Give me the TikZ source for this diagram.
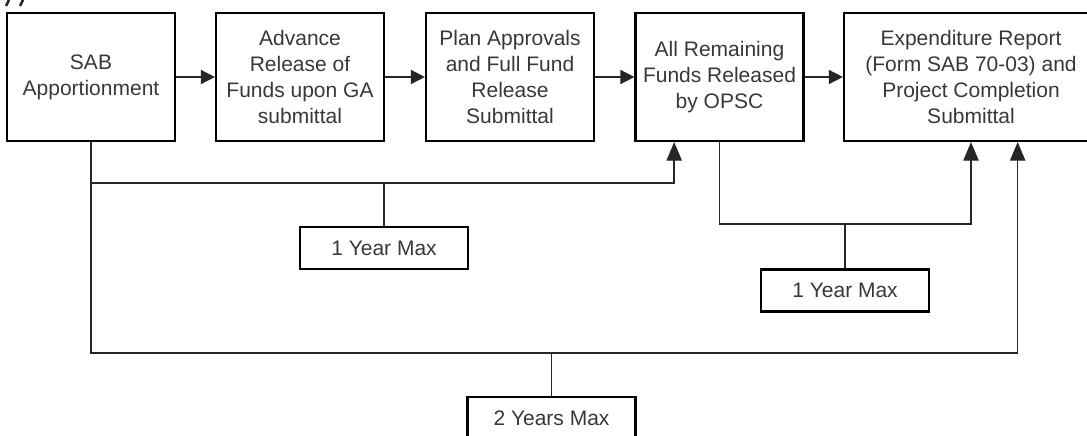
\documentclass[tikz,border=0pt]{standalone}
\usepackage{fontspec}
\setmainfont{Liberation Sans}
\usetikzlibrary{arrows.meta}

\begin{document}
\begin{tikzpicture}[x=0.75pt, y=-0.75pt,
    flowbox/.style={draw, line width=1.6pt, minimum width=126pt, minimum height=96pt,
      align=center, text=black!78, font=\fontsize{15.75}{19.5}\selectfont, inner sep=2pt},
    maxbox/.style={draw, line width=1.6pt, minimum width=126pt, minimum height=31.5pt,
      text=black!78, font=\fontsize{15.75}{19.5}\selectfont},
    link/.style={line width=1.1pt, black!85},
    htip/.style={-{Triangle[length=10.5pt, width=10.5pt]}},
    vtip/.style={-{Triangle[length=14pt, width=11.5pt]}}]
  \useasboundingbox (0,0) rectangle (1087,435);

  % cut-off strokes at the top left
  \draw[line width=2pt, black!85] (9,0) -- (6,6);
  \draw[line width=2pt, black!85] (23,0) -- (20,6);

  % Steps
  \node[flowbox] (sab) at (91,77) {SAB\\Apportionment};
  \node[flowbox] (adv) at (300,77) {Advance\\Release of\\Funds upon GA\\submittal};
  \node[flowbox] (plan) at (510,77) {Plan Approvals\\and Full Fund\\Release\\Submittal};
  \node[flowbox] (opsc) at (719.5,77) {All Remaining\\Funds Released\\by OPSC};
  \node[flowbox, minimum width=190.5pt] (report) at (971,77)
    {Expenditure Report\\(Form SAB 70-03) and\\Project Completion\\Submittal};

  \draw[link, htip] (sab) -- (adv);
  \draw[link, htip] (adv) -- (plan);
  \draw[link, htip] (plan) -- (opsc);
  \draw[link, htip] (opsc) -- (report);

  % Time limits
  \node[maxbox] (yrA) at (384,248) {1 Year Max};
  \node[maxbox] (yrB) at (845,290.5) {1 Year Max};
  \node[maxbox] (yrC) at (551.5,418) {2 Years Max};

  % bracket levels and entry points
  \coordinate (lvA) at (0,183);
  \coordinate (lvB) at (0,224);
  \coordinate (lvC) at (0,353);
  \coordinate (opscin) at ([xshift=-34pt]opsc.south);
  \coordinate (repin) at ([xshift=35pt]report.south);

  % SAB -> OPSC, 1 year
  \draw[link, vtip] (sab.south) |- (lvA -| opscin) -- (opscin);
  \draw[link] (yrA.north) -- (yrA.north |- lvA);

  % OPSC -> report, 1 year
  \draw[link, vtip] (opsc.south) |- (lvB -| report.south) -- (report.south);
  \draw[link] (yrB.north) -- (yrB.north |- lvB);

  % SAB -> report, 2 years
  \draw[link, vtip] (sab.south) |- (lvC -| repin) -- (repin);
  \draw[link] (yrC.north) -- (yrC.north |- lvC);

\end{tikzpicture}
\end{document}
